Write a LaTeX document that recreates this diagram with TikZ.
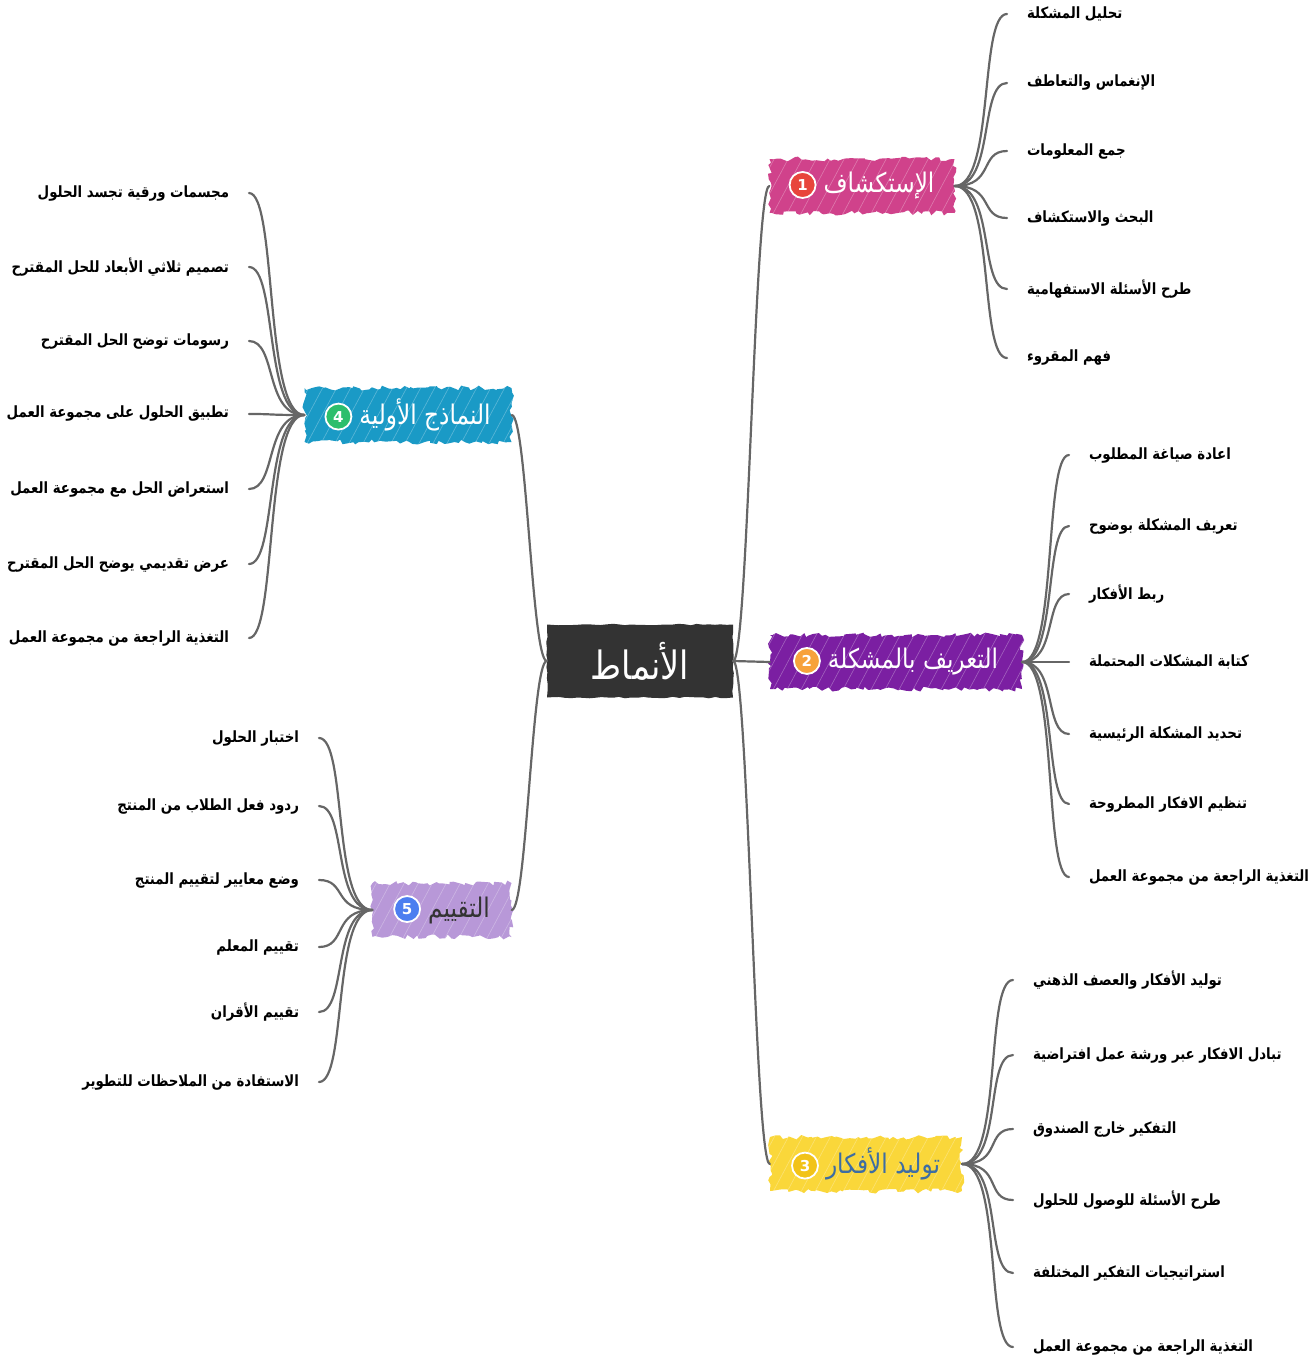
\documentclass[tikz,border=0pt]{standalone}
\usepackage{fontspec}
\newfontfamily\arab[Script=Arabic]{DejaVu Sans}
\newfontfamily\arabschmal[Script=Arabic, FakeStretch=0.86]{DejaVu Sans}
\TeXXeTstate=1
\usetikzlibrary{decorations.pathmorphing}
\definecolor{linie}{HTML}{666666}
\definecolor{mitte}{HTML}{333333}
\definecolor{farbeA}{HTML}{D0428B}
\definecolor{farbeB}{HTML}{7B1FA2}
\definecolor{farbeC}{HTML}{FAD73A}
\definecolor{farbeD}{HTML}{1A9AC6}
\definecolor{farbeE}{HTML}{B898D8}
\definecolor{nA}{HTML}{E8453C}
\definecolor{nB}{HTML}{F7A23B}
\definecolor{nC}{HTML}{F2C318}
\definecolor{nD}{HTML}{2DBE6C}
\definecolor{nE}{HTML}{4C7EF0}
\definecolor{textC}{HTML}{3D6DA3}
\tikzset{
  ast/.style={draw=linie, line width=2.2pt, line cap=round},
  thema/.style={fill=#1, decorate, decoration={random steps, segment length=4pt, amplitude=2.5pt},
    minimum height=54pt, inner xsep=0pt, text=white, font=\arabschmal\fontsize{27}{30}\selectfont,
    path picture={\foreach \k in {-80,-66,...,280}
      \draw[white, opacity=.3, line width=.6pt] ([xshift=\k pt]path picture bounding box.south west) -- ++(40pt,75pt);}},
  nummer/.style={circle, fill=#1, draw=white, line width=1.8pt, minimum size=26pt, inner sep=0pt,
    text=white, font=\arab\bfseries\fontsize{15}{15}\selectfont},
  blattR/.style={anchor=west, inner sep=0pt, outer xsep=20pt, font=\arabschmal\bfseries\fontsize{15.5}{18}\selectfont},
  blattL/.style={blattR, anchor=east}
}
\begin{document}
\begin{tikzpicture}[x=1pt, y=-1pt]
  \pgfmathsetseed{3}
  \useasboundingbox (0,0) rectangle (1314,1358);
  % Mitte
  \node[fill=mitte, decorate, decoration={random steps, segment length=6pt, amplitude=.8pt},
    minimum width=186pt, minimum height=73pt, text=white, font=\arabschmal\fontsize{39}{44}\selectfont]
    (m) at (640,661) {\beginR الأنماط\endR};
  % Hauptthemen
  \node[thema=farbeA, minimum width=185pt] (t1) at (862,186) {\hspace{34pt}\beginR الإستكشاف\endR};
  \node[thema=farbeB, minimum width=252pt] (t2) at (896,662) {\hspace{34pt}\beginR التعريف بالمشكلة\endR};
  \node[thema=farbeC, text=textC, minimum width=192pt] (t3) at (866,1164) {\hspace{34pt}\beginR توليد الأفكار\endR};
  \node[thema=farbeD, minimum width=207pt] (t4) at (408,415) {\hspace{34pt}\beginR النماذج الأولية\endR};
  \node[thema=farbeE, text=mitte, minimum width=139pt] (t5) at (442,910) {\hspace{34pt}\beginR التقييم\endR};
  % Nummern
  \foreach \i/\f in {1/nA,2/nB,3/nC,4/nD,5/nE}
    \node[nummer=\f] (k\i) at ([xshift=13pt,yshift=8pt]t\i.text) {\i};
  % Verbindungen zur Mitte
  \draw[ast] (m.east) .. controls +(15,0) and +(-15,0) .. (t1.west);
  \draw[ast] (m.east) -- (t2.west);
  \draw[ast] (m.east) .. controls +(15,0) and +(-15,0) .. (t3.west);
  \draw[ast] (m.west) .. controls +(-15,0) and +(15,0) .. (t4.east);
  \draw[ast] (m.west) .. controls +(-15,0) and +(15,0) .. (t5.east);
  % Unterpunkte 1
  \foreach \y/\txt [count=\i] in {14/تحليل المشكلة, 83/الإنغماس والتعاطف, 151/جمع المعلومات,
      218/البحث والاستكشاف, 289/طرح الأسئلة الاستفهامية, 358/فهم المقروء} {
    \node[blattR] (a\i) at (1007,\y) {\beginR\txt\endR};
    \draw[ast] (t1.east) .. controls +(40,0) and +(-28,0) .. (a\i.west);
  }
  % Unterpunkte 2
  \foreach \y/\txt [count=\i] in {455/اعادة صياغة المطلوب, 526/تعريف المشكلة بوضوح, 594/ربط الأفكار,
      662/كتابة المشكلات المحتملة, 734/تحديد المشكلة الرئيسية, 804/تنظيم الافكار المطروحة,
      877/التغذية الراجعة من مجموعة العمل} {
    \node[blattR] (b\i) at (1069,\y) {\beginR\txt\endR};
    \draw[ast] (t2.east) .. controls +(35,0) and +(-25,0) .. (b\i.west);
  }
  % Unterpunkte 3
  \foreach \y/\txt [count=\i] in {980/توليد الأفكار والعصف الذهني, 1055/تبادل الافكار عبر ورشة عمل افتراضية,
      1129/التفكير خارج الصندوق, 1200/طرح الأسئلة للوصول للحلول, 1273/استراتيجيات التفكير المختلفة,
      1347/التغذية الراجعة من مجموعة العمل} {
    \node[blattR] (c\i) at (1013,\y) {\beginR\txt\endR};
    \draw[ast] (t3.east) .. controls +(40,0) and +(-28,0) .. (c\i.west);
  }
  % Unterpunkte 4
  \foreach \y/\txt [count=\i] in {193/مجسمات ورقية تجسد الحلول, 267/تصميم ثلاثي الأبعاد للحل المقترح,
      341/رسومات توضح الحل المقترح, 414/تطبيق الحلول على مجموعة العمل, 489/استعراض الحل مع مجموعة العمل,
      564/عرض تقديمي يوضح الحل المقترح, 638/التغذية الراجعة من مجموعة العمل} {
    \node[blattL] (d\i) at (249,\y) {\beginR\txt\endR};
    \draw[ast] (t4.west) .. controls +(-40,0) and +(28,0) .. (d\i.east);
  }
  % Unterpunkte 5
  \foreach \y/\txt [count=\i] in {738/اختبار الحلول, 806/ردود فعل الطلاب من المنتج, 880/وضع معايير لتقييم المنتج,
      947/تقييم المعلم, 1012/تقييم الأقران, 1082/الاستفادة من الملاحظات للتطوير} {
    \node[blattL] (e\i) at (319,\y) {\beginR\txt\endR};
    \draw[ast] (t5.west) .. controls +(-40,0) and +(28,0) .. (e\i.east);
  }
\end{tikzpicture}
\end{document}
